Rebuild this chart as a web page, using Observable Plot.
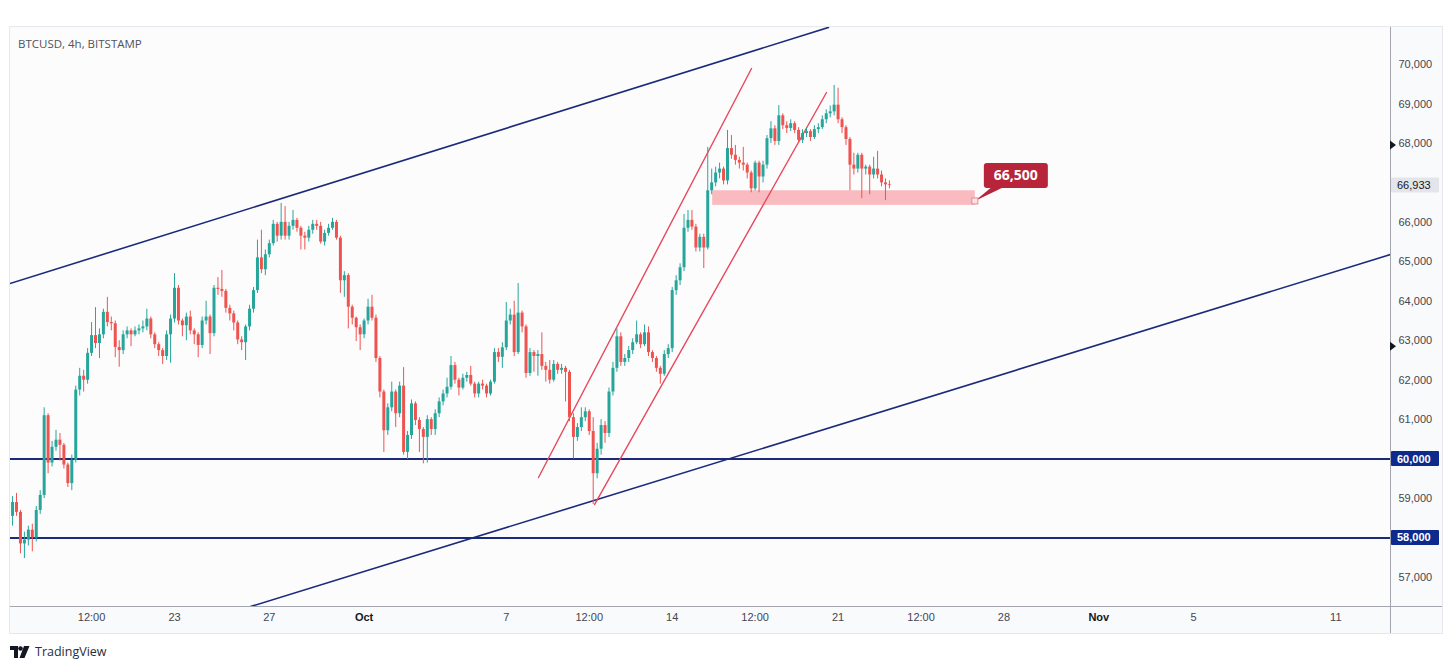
<!DOCTYPE html>
<html>
<head>
<meta charset="utf-8">
<script src="https://cdn.jsdelivr.net/npm/d3@7"></script>
<script src="https://cdn.jsdelivr.net/npm/@observablehq/plot@0.6"></script>
<style>
  html,body{margin:0;padding:0;background:#ffffff;}
  body{width:1452px;height:669px;position:relative;overflow:hidden;font-family:"Liberation Sans",Arial,sans-serif;}
  #panel{position:absolute;left:10px;top:27px;width:1432px;height:606px;background:#f9fafb;outline:1px solid #e6e8ee;}
  #panel svg{display:block;}
  #title{position:absolute;left:18px;top:36px;font-size:11.5px;color:#50535e;font-family:"Open Sans","Liberation Sans",sans-serif;}
  #logo{position:absolute;left:10px;top:643px;display:flex;align-items:center;gap:5px;font-size:12.5px;color:#2a2e39;font-family:"Open Sans","Liberation Sans",sans-serif;}
</style>
</head>
<body>
<div id="panel"></div>
<div id="title">BTCUSD, 4h, BITSTAMP</div>
<div id="logo"><svg width="20" height="12" viewBox="0 0 20 12"><path d="M0 0H8V12H4V4H0Z" fill="#131722"/><circle cx="10.5" cy="2.5" r="2.3" fill="#131722"/><path d="M14 0H19.5L14.5 12H9.5Z" fill="#131722"/></svg><span>TradingView</span></div>
<script>
// ---- data ----
const firstCandle = "2024-09-16T04:00:00Z"; // 4h candles
const open = [58550,58900,58650,57850,57950,58200,58000,58700,59080,61100,
59900,60300,60480,60350,59850,59380,59970,61750,62100,62000,
62680,63130,62930,63150,63720,63460,63430,62830,62750,63150,
63250,63150,63250,63300,63350,63550,63150,62900,62750,62600,
63150,63550,64330,63500,63380,63600,63250,63150,62880,63500,
63600,63180,64330,64300,64250,63820,63680,63450,63020,62950,
63350,63800,64270,65100,64800,65180,65460,65950,65650,66000,
65650,65900,66050,65850,65650,65600,65800,65950,65900,65500,
65720,65850,66000,65600,64520,64650,63850,63570,63330,63150,
63500,63850,63570,62550,61700,60720,61300,61700,61150,61850,
60170,60600,61400,60980,60750,60550,61000,60750,61150,61450,
61650,61820,62370,62000,61800,62050,62120,61900,61650,61900,
61850,61650,61950,62700,62580,62820,63500,63650,62700,63700,
63350,62170,62700,62600,62650,62350,62250,62000,62400,62250,
62300,62200,61050,60550,60800,61050,61200,60700,59630,60250,
60850,60650,61700,62300,63100,62450,62550,62750,62950,63150,
62900,63200,62700,62550,62300,62150,62650,62800,64270,64520,
64850,65850,66050,65880,65350,65620,65350,66800,67000,67250,
67350,67050,67870,67700,67570,67500,67450,67250,66850,67500,
67150,67450,68120,68370,68050,68700,68450,68380,68500,68330,
68080,68250,68300,68150,68350,68400,68600,68750,68800,68970,
68600,68400,68100,67450,67350,67700,67350,67400,67200,67350,
67200,67000,66950];
const close = [58900,58650,57850,57950,58200,58000,58700,59080,61100,59900,
60300,60480,60350,59850,59380,59970,61750,62100,62000,62680,
63130,62930,63150,63720,63460,63430,62830,62750,63150,63250,
63150,63250,63300,63350,63550,63150,62900,62750,62600,63150,
63550,64330,63500,63380,63600,63250,63150,62880,63500,63600,
63180,64330,64300,64250,63820,63680,63450,63020,62950,63350,
63800,64270,65100,64800,65180,65460,65950,65650,66000,65650,
65900,66050,65850,65650,65600,65800,65950,65900,65500,65720,
65850,66000,65600,64520,64650,63850,63570,63330,63150,63500,
63850,63570,62550,61700,60720,61300,61700,61150,61850,60170,
60600,61400,60980,60750,60550,61000,60750,61150,61450,61650,
61820,62370,62000,61800,62050,62120,61900,61650,61900,61850,
61650,61950,62700,62580,62820,63500,63650,62700,63700,63350,
62170,62700,62600,62650,62350,62250,62000,62400,62250,62300,
62200,61050,60550,60800,61050,61200,60700,59630,60250,60850,
60650,61700,62300,63100,62450,62550,62750,62950,63150,62900,
63200,62700,62550,62300,62150,62650,62800,64270,64520,64850,
65850,66050,65880,65350,65620,65350,66800,67000,67250,67350,
67050,67870,67700,67570,67500,67450,67250,66850,67500,67150,
67450,68120,68370,68050,68700,68450,68380,68500,68330,68080,
68250,68300,68150,68350,68400,68600,68750,68800,68970,68600,
68400,68100,67450,67350,67700,67350,67400,67200,67350,67200,
67000,66950,66933];
const high = [59050,59130,58700,58150,58300,58350,58800,59200,61300,61150,
60450,60730,60650,60400,59900,60100,61850,62300,62250,62800,
63460,63840,63300,63800,64100,63600,63500,63000,63250,63350,
63300,63350,63400,63500,63800,63600,63200,62950,62800,63250,
63650,64700,64400,63550,63700,63750,63300,63200,63600,64000,
63650,64400,64600,64780,64300,63900,63750,63500,63100,63400,
63900,64350,65550,65800,65300,65550,66050,66000,66480,66400,
66000,66300,66100,65900,65750,65900,66050,66050,66000,65800,
65950,66100,66050,65650,64750,64700,63900,63600,63400,63550,
64050,64150,63650,62600,61750,61400,61950,61750,61950,62320,
60700,61500,61450,61050,60800,61100,61050,61250,61550,61750,
62050,62600,62450,62050,62150,62200,62350,61950,61950,62000,
61900,62000,62800,62800,62950,63970,63800,64000,64450,63750,
63400,62800,62750,62750,63200,62450,62500,62500,62450,62400,
62350,62250,61150,60900,61300,61300,61250,61050,60400,61000,
60950,61800,62450,63300,63200,62650,62850,63050,63500,63200,
63400,63350,62750,62600,62350,62750,62900,64350,64650,64950,
66200,66300,66300,65950,65700,65700,67900,67350,67400,67500,
67400,68330,68200,67950,67650,67900,67500,67300,67550,67550,
67550,68200,68550,68450,68960,68750,68550,68600,68550,68400,
68350,68400,68350,68450,68500,68700,68850,68950,69470,69400,
68650,68450,68150,67750,67750,67750,67450,67450,67650,67800,
67300,67100,67050];
const low = [58300,58550,57600,57480,57800,57650,57900,58600,59000,59630,
59800,60200,59950,59750,59280,59200,59900,61600,61700,61900,
62600,62800,62550,63050,63350,63250,62570,62330,62650,63050,
62850,63100,63150,63200,63250,63050,62800,62600,62400,62500,
62430,63450,63400,63100,63000,63150,62900,62570,62800,63400,
62650,63100,64150,64100,63700,63500,63250,62900,62750,62500,
63250,63700,64200,64700,64650,65100,65400,65500,65550,65550,
65550,65800,65750,65300,65300,65500,65700,65800,65450,65400,
65650,65800,65550,64200,64100,63300,63400,62980,62750,63050,
63400,63500,62450,61550,60170,60600,61200,60800,61050,60100,
59990,60500,60850,60170,59880,59900,60600,60600,61050,61350,
61550,61750,61900,61600,61750,61950,61850,61550,61550,61750,
61550,61600,61900,62450,62300,62750,63400,62600,62650,63200,
62050,62100,62200,62100,62250,61950,61900,61950,62150,62150,
61450,60950,60000,60450,60700,60950,60600,58850,59500,60100,
60400,60550,61600,62200,62350,62350,62450,62650,62900,62800,
62850,62600,62450,62200,61900,62100,62550,62700,64150,64400,
64750,65750,65800,65250,65250,64830,65300,66700,66900,67100,
66950,66950,67600,67450,67350,67300,67100,66750,66800,66750,
67000,67350,68000,67950,67950,68350,68250,68300,68250,68000,
68000,68150,68050,68100,68250,68350,68500,68650,68700,68500,
68250,67950,66800,67200,67250,66600,67200,66700,67100,67100,
66900,66550,66850];

const timeTicks = ["2024-09-19T12:00Z","2024-09-23T00:00Z","2024-09-27T00:00Z","2024-10-01T00:00Z","2024-10-07T00:00Z","2024-10-10T12:00Z","2024-10-14T00:00Z","2024-10-17T12:00Z","2024-10-21T00:00Z","2024-10-24T12:00Z","2024-10-28T00:00Z","2024-11-01T00:00Z","2024-11-05T00:00Z","2024-11-11T00:00Z"];
const timeTickLabels = ["12:00","23","27","Oct","7","12:00","14","12:00","21","12:00","28","Nov","5","11"];
const monthLabels = ["Oct","Nov"];
const priceTicks = [57000,58000,59000,60000,61000,62000,63000,64000,65000,66000,67000,68000,69000,70000];

const levelPrices = [60000, 58000];
const outerChannelUpperDates = ["2024-09-16T01:20Z","2024-10-20T14:15Z"];
const outerChannelUpperPrices = [64450, 70940];
const outerChannelLowerDates = ["2024-09-26T05:00Z","2024-11-13T07:25Z"];
const outerChannelLowerPrices = [56264, 65185];
const innerChannelUpperDates = ["2024-10-08T08:36Z","2024-10-17T08:20Z"];
const innerChannelUpperPrices = [59533, 69899];
const innerChannelLowerDates = ["2024-10-10T17:19Z","2024-10-20T12:16Z"];
const innerChannelLowerPrices = [58849, 69290];

const zoneDates = ["2024-10-15T17:00Z","2024-10-26T19:00Z"];
const zonePrices = [66430, 66800];
const calloutDate = "2024-10-26T19:00Z";
const calloutPrice = 66530;
const calloutText = "66,500";

const lastPrice = 66933;
const markerPrices = [67950, 62850];

// ---- build ----
const t0 = Date.parse(firstCandle);
const candles = close.map((c, i) => ({
  date: new Date(t0 + i * 4 * 3600e3), open: open[i], high: high[i], low: low[i], close: c
}));
const ups = candles.filter(d => d.close >= d.open);
const downs = candles.filter(d => d.close < d.open);
const UP = "#26a69a", DOWN = "#ef5350", NAVY = "#1b2a7b", RED = "#e8495c";
const tickLabel = new Map(timeTicks.map((t, i) => [Date.parse(t), timeTickLabels[i]]));
const allTicks = timeTicks.map(t => new Date(t));
const plainTicks = allTicks.filter(d => !monthLabels.includes(tickLabel.get(+d)));
const monthTicks = allTicks.filter(d => monthLabels.includes(tickLabel.get(+d)));
const seg = (ds, ps) => ds.map((d, i) => ({t: new Date(d), p: ps[i]}));
const fmt = d3.format(",");
const badgePrices = [lastPrice, ...levelPrices];
// price ticks hidden behind the badges (TradingView hides colliding labels)
const shownPriceTicks = priceTicks.filter(p => badgePrices.every(b => Math.abs(b - p) > 300));

function overlay(index, scales, values, dims) {
  const X = scales.x, Y = scales.y;
  const right = dims.width - dims.marginRight;
  const bottom = dims.height - dims.marginBottom;
  const g = d3.create("svg:g");
  // separators
  g.append("line").attr("x1", right + 0.5).attr("x2", right + 0.5).attr("y1", 0).attr("y2", dims.height).attr("stroke", "#a3a6ae");
  g.append("line").attr("x1", 0).attr("x2", dims.width).attr("y1", bottom + 0.5).attr("y2", bottom + 0.5).attr("stroke", "#a3a6ae");
  // price badges
  const badges = [
    {p: badgePrices[0], fill: "#e3e5ea", color: "#131722", bold: false},
    {p: badgePrices[1], fill: "#0d2a8c", color: "#ffffff", bold: true},
    {p: badgePrices[2], fill: "#0d2a8c", color: "#ffffff", bold: true}
  ];
  for (const b of badges) {
    const y = Y(b.p);
    g.append("rect").attr("x", right + 1).attr("y", y - 7.5).attr("width", 48).attr("height", 15).attr("fill", b.fill).attr("rx", 1);
    g.append("text").attr("x", right + 7).attr("y", y).attr("dy", "0.36em").attr("text-anchor", "start").attr("fill", b.color)
      .attr("font-size", 11).attr("font-weight", b.bold ? "bold" : "normal").text(fmt(b.p));
  }
  // markers on the price scale
  for (const p of markerPrices) {
    const y = Y(p);
    g.append("path").attr("d", `M${right},${y - 4.5}L${right + 6},${y}L${right},${y + 4.5}Z`).attr("fill", "#131722");
  }
  // callout
  const ax = X(new Date(calloutDate)), ay = Y(calloutPrice);
  const bx = ax + 9, by = ay - 38, bw = 64, bh = 25;
  g.append("path").attr("d", `M${ax},${ay}L${bx + 8},${by + bh - 1}L${bx + 20},${by + bh - 1}Z`).attr("fill", "#b8243a");
  g.append("rect").attr("x", bx).attr("y", by).attr("width", bw).attr("height", bh).attr("rx", 3).attr("fill", "#b8243a");
  g.append("text").attr("x", bx + bw / 2).attr("y", by + bh / 2).attr("dy", "0.36em").attr("text-anchor", "middle")
    .attr("fill", "#ffffff").attr("font-size", 14).attr("font-weight", "bold").attr("font-family", "'Open Sans','Liberation Sans',sans-serif").text(calloutText);
  g.append("rect").attr("x", ax - 3).attr("y", ay - 3).attr("width", 6).attr("height", 6).attr("fill", "#fbe3e6").attr("stroke", "#e58a95");
  return g.node();
}

const chart = Plot.plot({
  width: 1432, height: 606,
  marginLeft: 0, marginRight: 52, marginTop: 0, marginBottom: 27,
  style: {background: "transparent", color: "#434651", fontFamily: "'Liberation Sans', Arial, sans-serif", fontSize: "11px", overflow: "visible"},
  x: {type: "utc", domain: [new Date("2024-09-16T01:55:00Z"), new Date("2024-11-13T07:25:00Z")], axis: null},
  y: {domain: [56265, 70938], axis: null},
  marks: [
    Plot.frame({fill: "#fcfcfd", stroke: null}),
    Plot.rect([0], {x1: () => new Date(zoneDates[0]), x2: () => new Date(zoneDates[1]), y1: () => zonePrices[0], y2: () => zonePrices[1], fill: "#f23645", fillOpacity: 0.33}),
    Plot.ruleY(levelPrices, {stroke: NAVY, strokeWidth: 2}),
    Plot.line(seg(outerChannelUpperDates, outerChannelUpperPrices), {x: "t", y: "p", stroke: NAVY, strokeWidth: 1.6, clip: true}),
    Plot.line(seg(outerChannelLowerDates, outerChannelLowerPrices), {x: "t", y: "p", stroke: NAVY, strokeWidth: 1.6, clip: true}),
    Plot.line(seg(innerChannelUpperDates, innerChannelUpperPrices), {x: "t", y: "p", stroke: RED, strokeWidth: 1.4, clip: true}),
    Plot.line(seg(innerChannelLowerDates, innerChannelLowerPrices), {x: "t", y: "p", stroke: RED, strokeWidth: 1.4, clip: true}),
    Plot.ruleX(ups, {x: "date", y1: "low", y2: "high", stroke: UP, strokeWidth: 1}),
    Plot.ruleX(downs, {x: "date", y1: "low", y2: "high", stroke: DOWN, strokeWidth: 1}),
    Plot.ruleX(ups, {x: "date", y1: "open", y2: "close", stroke: UP, strokeWidth: 3}),
    Plot.ruleX(downs, {x: "date", y1: "open", y2: "close", stroke: DOWN, strokeWidth: 3}),
    Plot.axisX(plainTicks, {tickFormat: d => tickLabel.get(+d), tickSize: 0, tickPadding: 7, fill: "#434651"}),
    Plot.axisX(monthTicks, {tickFormat: d => tickLabel.get(+d), tickSize: 0, tickPadding: 7, fontWeight: "bold", fill: "#131722"}),
    Plot.axisY(shownPriceTicks, {anchor: "right", tickSize: 0, tickPadding: 8, tickFormat: fmt, textAnchor: "start", fill: "#434651"}),
    overlay
  ]
});
document.getElementById("panel").appendChild(chart);
</script>
</body>
</html>
